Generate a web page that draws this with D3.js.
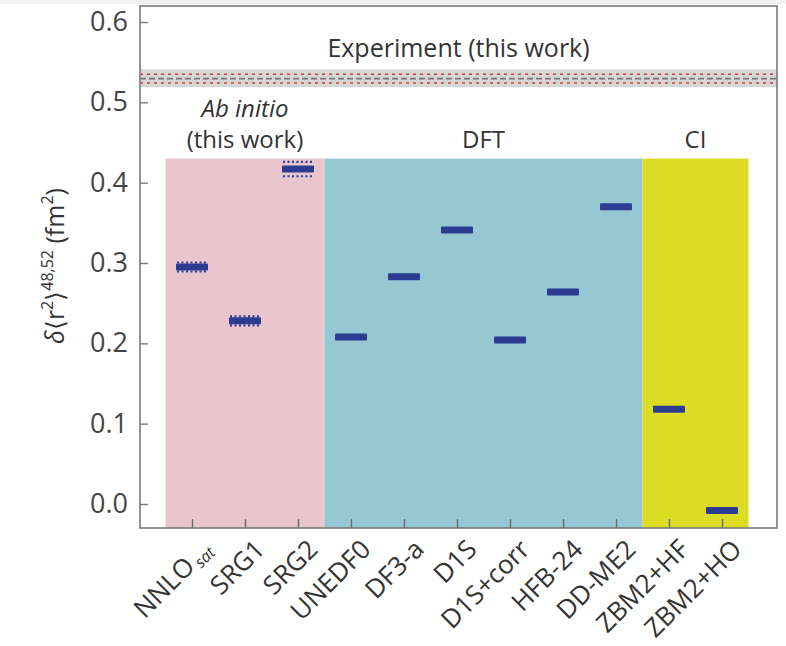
<!DOCTYPE html>
<html><head><meta charset="utf-8">
<script src="https://cdn.jsdelivr.net/npm/d3@7/dist/d3.min.js"></script>
<style>
body{margin:0;background:#fff;}
svg{display:block;font-family:"Open Sans",sans-serif;}
</style></head>
<body><svg id="c" width="786" height="646"></svg>
<script>
const categories = ["NNLO_sat","SRG1","SRG2","UNEDF0","DF3-a","D1S","D1S+corr","HFB-24","DD-ME2","ZBM2+HF","ZBM2+HO"];
const values =     [0.295, 0.228, 0.417, 0.208, 0.283, 0.341, 0.204, 0.264, 0.370, 0.118, -0.008];
const errors =     [0.004, 0.004, 0.009, 0, 0, 0, 0, 0, 0, 0, 0];
const groups = [
  {name:"Ab initio", sub:"(this work)", from:"NNLO_sat", to:"SRG2", color:"#e9c6cd"},
  {name:"DFT", from:"UNEDF0", to:"DD-ME2", color:"#97c7d3"},
  {name:"CI", from:"ZBM2+HF", to:"ZBM2+HO", color:"#dcdc24"}
];
const groupTop = 0.43;
const experiment = {value:0.5295, err:0.0055, band:[0.519, 0.541]};
const yTicks = [0.0, 0.1, 0.2, 0.3, 0.4, 0.5, 0.6];

const svg = d3.select("#c");
const L=140, R=777, T=6, B=528;
svg.append("rect").attr("x",0).attr("y",0).attr("width",786).attr("height",4).attr("fill","#f1f1f1");

const y = d3.scaleLinear().domain([0,0.6]).range([504,22]);
const x = d3.scalePoint().domain(categories).range([192,722]);
const step = x.step();

// group backgrounds
groups.forEach(g=>{
  const x0 = x(g.from)-step/2, x1 = x(g.to)+step/2;
  svg.append("rect").attr("x",x0).attr("y",y(groupTop)).attr("width",x1-x0).attr("height",B-y(groupTop)).attr("fill",g.color);
  const cx=(x0+x1)/2;
  if(g.sub){
    svg.append("text").attr("x",cx).attr("y",y(groupTop)-42).attr("text-anchor","middle").attr("font-size",24).attr("font-style","italic").attr("fill","#333").text(g.name);
    svg.append("text").attr("x",cx).attr("y",y(groupTop)-11).attr("text-anchor","middle").attr("font-size",24).attr("fill","#333").text(g.sub);
  } else {
    svg.append("text").attr("x",cx).attr("y",y(groupTop)-11).attr("text-anchor","middle").attr("font-size",24).attr("fill","#333").text(g.name);
  }
});

// experiment band
svg.append("rect").attr("x",L).attr("y",y(experiment.band[1])).attr("width",R-L).attr("height",y(experiment.band[0])-y(experiment.band[1])).attr("fill","#d6d6d6");
svg.append("line").attr("x1",L).attr("x2",R).attr("y1",y(experiment.value)).attr("y2",y(experiment.value)).attr("stroke","#777").attr("stroke-width",1.6).attr("stroke-dasharray","6,3");
[experiment.value+experiment.err, experiment.value-experiment.err].forEach(v=>{
  svg.append("line").attr("x1",L).attr("x2",R).attr("y1",y(v)).attr("y2",y(v)).attr("stroke","#d04040").attr("stroke-width",1.6).attr("stroke-dasharray","3,4");
});
svg.append("text").attr("x",(L+R)/2).attr("y",57).attr("text-anchor","middle").attr("font-size",25).attr("fill","#333").text("Experiment (this work)");

// marks
const mw=32, mh=7;
categories.forEach((c,i)=>{
  const cx=x(c), cy=y(values[i]);
  if(errors[i]>0){
    const e = Math.max(y(values[i]-errors[i])-cy, mh/2+1);
    [cy-e, cy+e].forEach(yy=>{
      svg.append("line").attr("x1",cx-mw/2+1).attr("x2",cx+mw/2).attr("y1",yy).attr("y2",yy).attr("stroke","#2b3c92").attr("stroke-width",2.2).attr("stroke-dasharray","2,2.5");
    });
  }
  svg.append("rect").attr("x",cx-mw/2).attr("y",cy-mh/2).attr("width",mw).attr("height",mh).attr("rx",1).attr("fill","#2b3c92");
});

// frame
svg.append("rect").attr("x",L).attr("y",T).attr("width",R-L).attr("height",B-T).attr("fill","none").attr("stroke","#7a7a7a").attr("stroke-width",1.6);

// y axis
const ya = svg.append("g").attr("transform",`translate(${L},0)`).call(d3.axisLeft(y).tickValues(yTicks).tickFormat(d3.format(".1f")).tickSize(-8).tickPadding(12));
ya.select(".domain").remove();
ya.selectAll("line").attr("stroke","#7a7a7a").attr("stroke-width",1.4);
ya.selectAll("text").attr("font-size",27).attr("fill","#444").attr("font-family","Open Sans");

// x axis
const xa = svg.append("g").attr("transform",`translate(0,${B})`).call(d3.axisBottom(x).tickSize(-9).tickPadding(0));
xa.select(".domain").remove();
xa.selectAll("line").attr("stroke","#6a6a6a").attr("stroke-width",1.4);
xa.selectAll("text").each(function(d){
  const t=d3.select(this);
  t.text(null).attr("font-size",26).attr("fill","#333").attr("font-family","Open Sans")
   .attr("text-anchor","end").attr("transform","translate(8,10) rotate(-45)").attr("dy","0.7em");
  if(d==="NNLO_sat"){
    t.append("tspan").text("NNLO");
    t.append("tspan").attr("font-size",16).attr("font-style","italic").attr("dx",3).attr("dy","0.25em").text("sat");
  } else t.text(d);
});

// y label
const yl = svg.append("text").attr("transform","translate(64,266) rotate(-90)").attr("text-anchor","middle").attr("font-size",25).attr("fill","#333");
yl.append("tspan").attr("font-style","italic").text("δ");
yl.append("tspan").text("⟨r");
yl.append("tspan").attr("font-size",16).attr("dy",-11).text("2");
yl.append("tspan").attr("dy",11).text("⟩");
yl.append("tspan").attr("font-size",16).attr("dy",-11).text("48,52");
yl.append("tspan").attr("dy",11).text(" (fm");
yl.append("tspan").attr("font-size",16).attr("dy",-11).text("2");
yl.append("tspan").attr("dy",11).text(")");
</script></body></html>
